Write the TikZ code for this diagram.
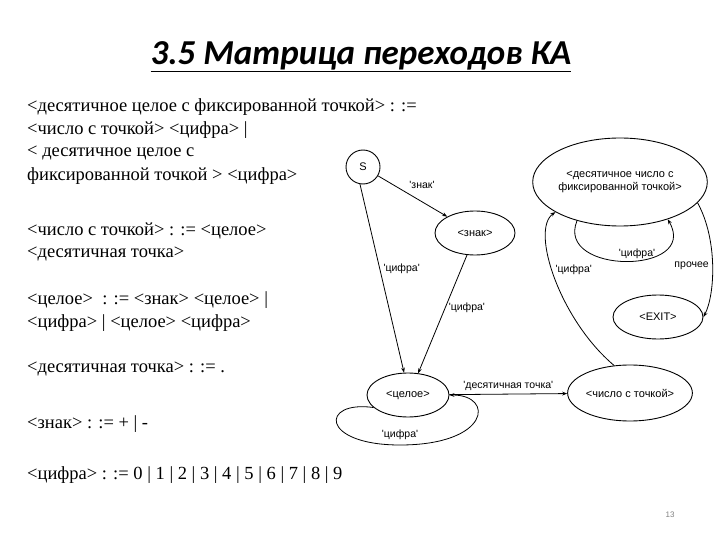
\documentclass[tikz,border=0pt]{standalone}
\usepackage{fontspec}
\setmainfont{Liberation Serif}
\newfontfamily\titlefont{Carlito}
\newfontfamily\dfont{Liberation Sans}
\usetikzlibrary{shapes.geometric,arrows.meta}
\begin{document}
\begin{tikzpicture}[x=1pt,y=-1pt,
  st/.style={draw,ellipse,line width=0.9pt,inner sep=0pt,font=\dfont\fontsize{11}{12.5}\selectfont,align=center},
  ed/.style={draw,line width=0.8pt,-{Stealth[length=5pt]}},
  lb/.style={font=\dfont\fontsize{10.5}{12}\selectfont},
  tx/.style={anchor=west,font=\fontsize{18.5}{20}\selectfont,inner sep=0pt}]
\useasboundingbox (0,0) rectangle (720,540);
\node (title) at (361,57) {\titlefont\bfseries\itshape\fontsize{35}{38}\selectfont\underline{3.5 Матрица переходов КА}};
\node[tx] (t1) at (27,107) {<десятичное целое с фиксированной точкой> : :=};
\node[tx] (t2) at (27,130) {<число с точкой> <цифра> |};
\node[tx] (t3) at (27,153) {< десятичное целое с};
\node[tx] (t4) at (27,176) {фиксированной точкой > <цифра>};
\node[tx] (t5) at (27,231) {<число с точкой> : := <целое>};
\node[tx] (t6) at (27,254) {<десятичная точка>};
\node[tx] (t7) at (27,300) {<целое> \ : := <знак> <целое> |};
\node[tx] (t8) at (27,323) {<цифра> | <целое> <цифра>};
\node[tx] (t9) at (27,369) {<десятичная точка> : := .};
\node[tx] (t10) at (27,424) {<знак> : := + | -};
\node[tx] (t11) at (27,475) {<цифра> : := 0 | 1 | 2 | 3 | 4 | 5 | 6 | 7 | 8 | 9};
\node[font=\dfont\fontsize{8}{9}\selectfont,text=gray] (pg) at (670,515) {13};
% states
\node[st,circle,minimum size=34pt] (S) at (363,167) {S};
\node[st,minimum width=165pt,minimum height=88pt] (D) at (620,182) {<десятичное число с\\фиксированной точкой>};
\node[st,minimum width=80pt,minimum height=44pt] (Z) at (475,233) {<знак>};
\node[st,minimum width=82pt,minimum height=44pt] (C) at (408,395) {<целое>};
\node[st,minimum width=112pt,minimum height=56pt] (N) at (630,393) {<число с точкой>};
\node[st,minimum width=90pt,minimum height=44pt] (E) at (658,317) {<EXIT>};
% edges
\draw[ed] (S) -- node[lb,above right,pos=0.4]{'знак'} (Z);
\draw[ed] (S.260) -- node[lb,right,pos=0.45]{'цифра'} (C.100);
\draw[ed] (Z.250) -- node[lb,right,pos=0.45]{'цифра'} (C.65);
\draw[ed] (C) -- node[lb,above]{'десятичная точка'} (N);
\draw[ed] (C.200) .. controls (320,400) and (320,445) .. (400,445) .. controls (490,445) and (495,395) .. (C.east);
\node[lb] (lc) at (400,435) {'цифра'};
\draw[ed] (D.222) .. controls (555,275) and (700,275) .. (D.322);
\node[lb] (ld) at (637,254) {'цифра'};
\draw[ed] (D.345) .. controls (718,240) and (715,295) .. node[lb,left,pos=0.5]{прочее} (E.east);
\draw[ed] (N.120) .. controls (560,320) and (530,230) .. node[lb,right,pos=0.55]{'цифра'} (D.205);
\end{tikzpicture}
\end{document}
